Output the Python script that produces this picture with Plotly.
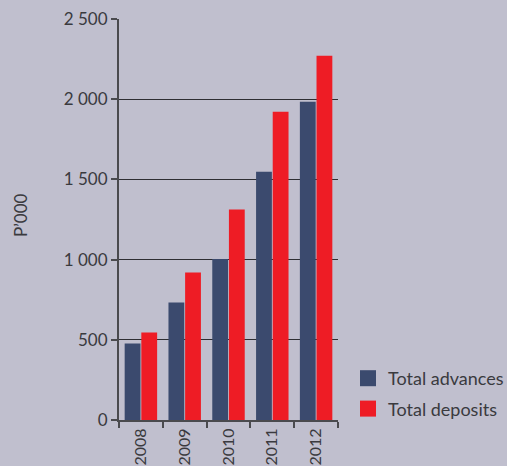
import plotly.graph_objects as go

years = ["2008", "2009", "2010", "2011", "2012"]
total_advances = [477, 732, 1003, 1548, 1984]
total_deposits = [545, 919, 1312, 1922, 2271]

y_tick_values = [0, 500, 1000, 1500, 2000, 2500]
y_tick_labels = ["0", "500", "1 000", "1 500", "2 000", "2 500"]

NAVY = "#3B4A6E"
RED = "#EE1C25"
BG = "#C0BFCE"
TEXT = "#3A3A3E"
FONT = "Lato, Noto Sans, sans-serif"

fig = go.Figure()
fig.add_trace(go.Bar(x=years, y=total_advances, name="Total advances",
                     marker=dict(color=NAVY, line=dict(width=0)), showlegend=False))
fig.add_trace(go.Bar(x=years, y=total_deposits, name="Total deposits",
                     marker=dict(color=RED, line=dict(width=0)), showlegend=False))

# larger square swatches for the legend
for name, color in [("Total advances", NAVY), ("Total deposits", RED)]:
    fig.add_trace(go.Scatter(x=[None], y=[None], mode="markers", name=name,
                             legendgroup=name,
                             marker=dict(symbol="square", size=17, color=color)))

fig.update_layout(
    width=507, height=466,
    margin=dict(l=119, r=169, t=19, b=46, autoexpand=False),
    paper_bgcolor=BG, plot_bgcolor=BG,
    barmode="group", bargap=0.24, bargroupgap=0.05,
    font=dict(family=FONT, color=TEXT, size=17),
    legend=dict(x=(348 - 119) / 219, y=(466 - 46 - 360) / 401, xanchor="left", yanchor="top",
                font=dict(size=18, color=TEXT), bgcolor="rgba(0,0,0,0)",
                itemwidth=30, tracegroupgap=4),
    xaxis=dict(
        type="category", tickangle=-90, ticks="outside", tickson="boundaries",
        ticklen=6, tickcolor="#4A4A4E", tickwidth=2,
        showline=True, linecolor="#4A4A4E", linewidth=2,
        showgrid=False, tickfont=dict(size=16, color=TEXT), automargin=False,
    ),
    yaxis=dict(
        range=[0, 2500], tickvals=y_tick_values, ticktext=y_tick_labels,
        ticks="outside", ticklen=6, tickcolor="#4A4A4E", tickwidth=2,
        showline=True, linecolor="#4A4A4E", linewidth=2,
        showgrid=True, gridcolor="#2E2E32", gridwidth=1,
        zeroline=False, tickfont=dict(size=17, color=TEXT), automargin=False,
    ),
    annotations=[dict(text="P’000", xref="paper", yref="paper",
                      x=(20 - 119) / 219, y=(466 - 46 - 215) / 401,
                      xanchor="center", yanchor="middle", textangle=-90,
                      showarrow=False, font=dict(size=17, color=TEXT))],
)

fig.write_html("out.html")
